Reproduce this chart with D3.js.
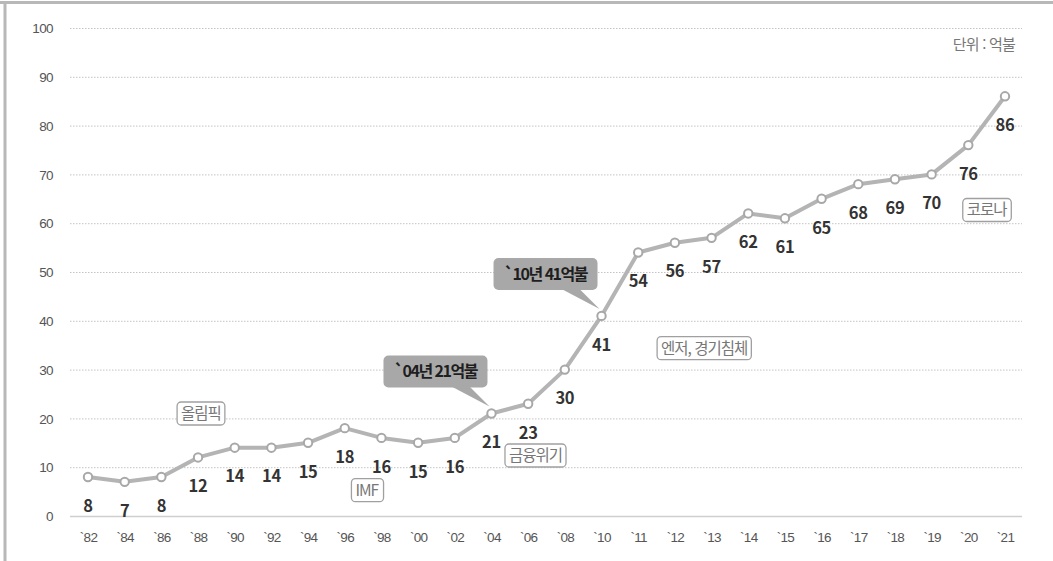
<!DOCTYPE html>
<html lang="ko">
<head>
<meta charset="utf-8">
<script src="https://cdn.jsdelivr.net/npm/d3@7"></script>
<style>
  html, body { margin: 0; padding: 0; background: #fff; }
  svg { display: block; font-family: "Noto Sans CJK KR", "Noto Sans", sans-serif; }
</style>
</head>
<body>
<svg id="chart" width="1053" height="561"></svg>
<script>
// Annual figures (unit: 억불)
const years  = ["82","84","86","88","90","92","94","96","98","00","02","04","06","08","10","11","12","13","14","15","16","17","18","19","20","21"];
const values = [8, 7, 8, 12, 14, 14, 15, 18, 16, 15, 16, 21, 23, 30, 41, 54, 56, 57, 62, 61, 65, 68, 69, 70, 76, 86];
const yTicks = [0, 10, 20, 30, 40, 50, 60, 70, 80, 90, 100];

// Event tags: year they sit near, value level, text
const eventYears  = ["88", "98", "06", "12", "20"];
const eventLevels = [21, 5.3, 12.4, 34.4, 62.7];
const eventTexts  = ["올림픽", "IMF", "금융위기", "엔저, 경기침체", "코로나"];
const eventShift  = [0.08, -0.4, 0.2, 0.8, 0.5];

// Highlight callouts
const calloutYears = ["04", "10"];
const calloutTexts = ["`04년 21억불", "`10년 41억불"];

const svg = d3.select("#chart");
const W = 1053, H = 561;

// Frame: top and left rules
svg.append("line").attr("x1", 0).attr("x2", W).attr("y1", 2.5).attr("y2", 2.5)
  .attr("stroke", "#b8b8b8").attr("stroke-width", 3);
svg.append("line").attr("x1", 5).attr("x2", 5).attr("y1", 1).attr("y2", H)
  .attr("stroke", "#b8b8b8").attr("stroke-width", 3);

const x = d3.scalePoint().domain(years).range([88, 1005]);
const y = d3.scaleLinear().domain([0, 100]).range([516, 28]);
const xl = 70, xr = 1022;

// Grid lines (dotted) and y tick labels
const grid = svg.append("g");
grid.selectAll("line").data(yTicks.filter(d => d > 0)).join("line")
  .attr("x1", xl).attr("x2", xr)
  .attr("y1", d => y(d) + 0.5).attr("y2", d => y(d) + 0.5)
  .attr("stroke", "#c4c4c4").attr("stroke-width", 1).attr("stroke-dasharray", "1.5,1.5");

const yAxis = d3.axisLeft(y).tickValues(yTicks).tickSize(0).tickPadding(0);
const gy = svg.append("g").attr("transform", "translate(53,0)").call(yAxis);
gy.select(".domain").remove();
gy.selectAll("text").attr("fill", "#555").attr("font-size", 13.5)
  .attr("letter-spacing", "-0.6px").attr("dy", "0.35em");

// Baseline
svg.append("line").attr("x1", xl).attr("x2", xr)
  .attr("y1", y(0) + 0.5).attr("y2", y(0) + 0.5)
  .attr("stroke", "#cfcfcf").attr("stroke-width", 1.5);

// X axis
const xAxis = d3.axisBottom(x).tickSize(0).tickPadding(0).tickFormat(d => "`" + d);
const gx = svg.append("g").attr("transform", `translate(0,${y(0) + 15})`).call(xAxis);
gx.select(".domain").remove();
gx.selectAll("text").attr("fill", "#555").attr("font-size", 13.5)
  .attr("letter-spacing", "-0.7px").attr("dy", "0.8em");

// Series line
const data = years.map((yr, i) => ({ yr, v: values[i] }));
svg.append("path").datum(data)
  .attr("fill", "none").attr("stroke", "#b4b4b4").attr("stroke-width", 4)
  .attr("stroke-linejoin", "round")
  .attr("d", d3.line().x(d => x(d.yr)).y(d => y(d.v)));

svg.append("g").selectAll("circle").data(data).join("circle")
  .attr("cx", d => x(d.yr)).attr("cy", d => y(d.v)).attr("r", 4.2)
  .attr("fill", "#fff").attr("stroke", "#a8a8a8").attr("stroke-width", 2);

// Value labels
svg.append("g").selectAll("text").data(data).join("text")
  .attr("x", d => x(d.yr)).attr("y", d => y(d.v) + 29)
  .attr("dy", "0.35em").attr("text-anchor", "middle")
  .attr("font-size", 16.5).attr("font-weight", "bold").attr("fill", "#333")
  .attr("letter-spacing", "-0.3px")
  .text(d => d.v);

// Unit note
svg.append("text").attr("x", 1015).attr("y", 45).attr("dy", "0.35em")
  .attr("text-anchor", "end").attr("font-size", 15).attr("fill", "#777")
  .attr("letter-spacing", "-0.8px").text("단위 : 억불");

// Event tags
const step = x.step();
eventTexts.forEach((t, i) => {
  const cx = x(eventYears[i]) + eventShift[i] * step;
  const cy = y(eventLevels[i]);
  const g = svg.append("g");
  const txt = g.append("text").attr("x", cx).attr("y", cy).attr("dy", "0.35em")
    .attr("text-anchor", "middle").attr("font-size", 15.5).attr("fill", "#777")
    .attr("letter-spacing", "-1px").text(t);
  const bb = txt.node().getBBox();
  g.insert("rect", "text")
    .attr("x", bb.x - 4).attr("y", cy - 11.5).attr("width", bb.width + 8).attr("height", 23)
    .attr("rx", 4).attr("fill", "#fff").attr("stroke", "#a0a0a0").attr("stroke-width", 1.3);
});

// Callouts with pointers
calloutTexts.forEach((t, i) => {
  const yr = calloutYears[i];
  const v = values[years.indexOf(yr)];
  const px = x(yr), py = y(v);
  const bx1 = px - 108, bx2 = px - 4;
  const by2 = py - 26, by1 = by2 - 32;
  const g = svg.append("g");
  g.append("path")
    .attr("d", `M${px - 40},${by2 - 1} L${px - 22},${by2 - 1} L${px - 2},${py - 7} Z`)
    .attr("fill", "#a8a8a8");
  g.append("rect").attr("x", bx1).attr("y", by1).attr("width", bx2 - bx1).attr("height", by2 - by1)
    .attr("rx", 5).attr("fill", "#a8a8a8");
  g.append("text").attr("x", (bx1 + bx2) / 2).attr("y", (by1 + by2) / 2).attr("dy", "0.35em")
    .attr("text-anchor", "middle").attr("font-size", 16).attr("font-weight", "bold")
    .attr("fill", "#1e1e1e").attr("letter-spacing", "-1.5px").text(t);
});
</script>
</body>
</html>
